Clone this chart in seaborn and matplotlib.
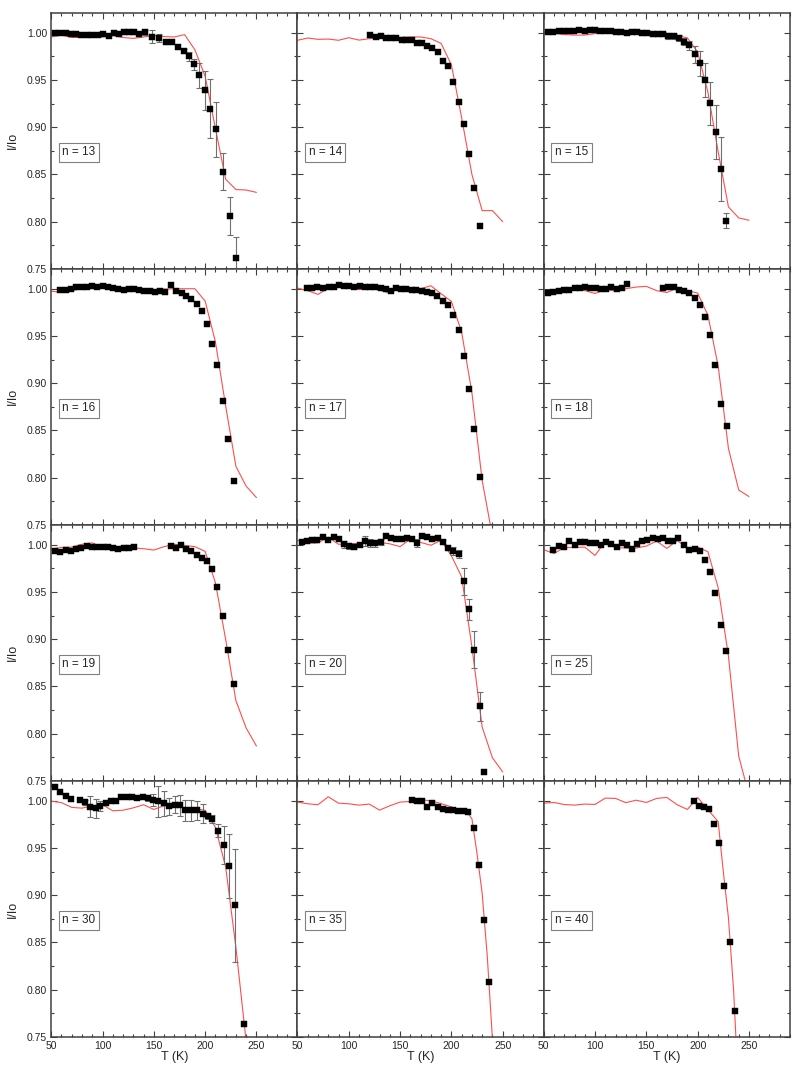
import matplotlib
matplotlib.use("Agg")
import matplotlib.pyplot as plt
import seaborn as sns
from matplotlib.ticker import MultipleLocator, FormatStrFormatter

sns.set_style("ticks")
plt.rcParams["font.family"] = ["Liberation Sans", "DejaVu Sans"]

# simulation grid (K)
SIM_T = [50, 60, 70, 80, 90, 100, 110, 120, 130, 140, 150,
         160, 170, 180, 190, 200, 210, 220, 230, 240, 250]

# n = 13
T13 = [54, 59, 64, 69.5, 74.5, 79.5, 85, 90, 95.5, 100.5, 106, 111, 116, 121, 126, 131, 136,
       141, 148, 155, 161.5, 168, 174, 179, 184.5, 189.5, 194.5, 199.5, 205, 211, 217.5, 224, 230]
I13 = [1.000, 1.000, 1.000, 0.999, 0.999, 0.998, 0.998, 0.998, 0.998, 0.9986, 0.997, 0.9996,
       0.9986, 1.001, 1.001, 1.0003, 0.999, 1.0003, 0.996, 0.9947, 0.9905, 0.9905, 0.985, 0.981,
       0.975, 0.9665, 0.955, 0.939, 0.9196, 0.8977, 0.853, 0.806, 0.762]
E13 = [0, 0, 0, 0, 0, 0, 0, 0, 0, 0, 0, 0, 0, 0.002, 0.002, 0.002, 0, 0.003, 0.007, 0.004,
       0.002, 0, 0, 0.002, 0.005, 0.006, 0.013, 0.021, 0.031, 0.029, 0.020, 0.020, 0.022]
SIM13 = [0.9955, 0.9975, 0.995, 0.995, 0.995, 0.9955, 0.997, 0.995, 0.994, 0.9955, 0.997,
         0.996, 0.9955, 0.998, 0.982, 0.954, 0.899, 0.845, 0.834, 0.8335, 0.831]

# n = 14
T14 = [121, 126.5, 131, 136.5, 141.5, 146, 151.5, 156, 161.5, 166.5, 171.5, 176.5, 181.5,
       186.5, 191.5, 196.5, 201.5, 207, 212, 217, 222, 227.5]
I14 = [0.9972, 0.9954, 0.9961, 0.9947, 0.9947, 0.9944, 0.9922, 0.9922, 0.9919, 0.9887, 0.9887,
       0.9855, 0.9838, 0.9799, 0.9697, 0.9651, 0.9475, 0.927, 0.9037, 0.8717, 0.836, 0.7955]
SIM14 = [0.992, 0.9944, 0.993, 0.9933, 0.992, 0.9947, 0.9922, 0.9937, 0.9945, 0.9945, 0.995,
         0.9955, 0.9955, 0.9937, 0.9887, 0.966, 0.910, 0.850, 0.8117, 0.8117, 0.800]

# n = 15
T15 = [54.5, 59.5, 64.5, 69.5, 74.5, 79.5, 84.5, 90, 95, 100, 105, 110, 115.5, 120.5, 125.5,
       131, 136, 141, 146, 151, 156, 161.5, 166.5, 171.5, 176.5, 182, 187, 192, 197, 202, 207.5,
       212.5, 218, 223, 228]
I15 = [1.0004, 1.0004, 1.0014, 1.0018, 1.0014, 1.0018, 1.0025, 1.0014, 1.0028, 1.0032, 1.0021,
       1.0021, 1.0018, 1.0007, 1.001, 1.0, 1.0004, 1.0007, 1.0, 1.0, 0.999, 0.999, 0.9986, 0.9968,
       0.9961, 0.9947, 0.9905, 0.9866, 0.9774, 0.9676, 0.9503, 0.9252, 0.8949, 0.8554, 0.8008]
E15 = [0, 0, 0, 0, 0, 0, 0, 0, 0, 0, 0, 0, 0, 0, 0, 0.001, 0.001, 0.001, 0.002, 0.002, 0.002,
       0.002, 0.002, 0.003, 0.003, 0.003, 0.004, 0.005, 0.009, 0.013, 0.018, 0.023, 0.029, 0.034,
       0.008]
SIM15 = [1.0, 0.9995, 0.998, 0.9975, 0.9975, 0.999, 1.0, 1.0, 1.0, 0.9995, 0.9995, 0.9985,
         0.998, 0.997, 0.9945, 0.9795, 0.937, 0.874, 0.8156, 0.804, 0.8015]

# n = 16
T16 = [59, 64.5, 69.5, 74.5, 80, 85, 90, 95, 100, 105.5, 110.5, 115.5, 120.5, 126, 130.5, 136,
       140.5, 146, 151, 156.5, 161, 166.5, 171.5, 177, 181.5, 186.5, 192, 196.5, 202, 206.5,
       211.5, 217, 222, 228]
I16 = [0.9989, 0.9986, 0.9996, 1.0014, 1.0014, 1.0014, 1.0025, 1.0014, 1.0032, 1.0014, 1.0011,
       0.9996, 0.9989, 0.9996, 0.9996, 0.9989, 0.9979, 0.9972, 0.9961, 0.9975, 0.9961, 1.0042,
       0.9975, 0.9951, 0.9926, 0.9887, 0.9838, 0.976, 0.9627, 0.9412, 0.9194, 0.881, 0.8412, 0.7965]
SIM16 = [0.9975, 0.996, 0.998, 1.0, 1.0015, 1.0025, 0.999, 0.9985, 0.999, 0.996, 0.9975,
         0.9995, 1.0, 1.0, 1.0, 0.987, 0.944, 0.876, 0.812, 0.791, 0.779]

# n = 17
T17 = [59, 64, 69.5, 75, 80.5, 85.5, 90.5, 95.5, 100.5, 105.5, 111, 115.5, 121, 125.5, 131, 136,
       141, 146, 151, 156, 161.5, 166, 171.5, 176, 181.5, 186, 191.5, 196.5, 201.5, 207, 212,
       217, 222, 227.5]
I17 = [1.0007, 1.0007, 1.0018, 1.0007, 1.0018, 1.0021, 1.0039, 1.0028, 1.0028, 1.0021, 1.0032,
       1.0018, 1.0014, 1.0014, 1.0004, 0.9993, 0.9975, 1.0004, 0.9993, 0.9993, 0.9982, 0.9989,
       0.9975, 0.9968, 0.9954, 0.9919, 0.9873, 0.9831, 0.9718, 0.9563, 0.9289, 0.8944, 0.8518,
       0.8004]
SIM17 = [1.0007, 0.998, 0.994, 1.0005, 1.0025, 1.0015, 0.999, 1.0004, 0.9985, 0.9954, 1.001,
         1.001, 1.0, 1.0032, 0.9947, 0.9866, 0.954, 0.890, 0.797, 0.738, 0.68]

# n = 18
T18 = [54.5, 59.5, 64.5, 70, 75, 80, 85.5, 90.5, 95.5, 100.5, 106, 111, 116, 121, 126, 131.5,
       166.5, 171, 176.5, 181.5, 186.5, 191.5, 197, 202, 207, 212, 217, 222.5, 229]
I18 = [0.9954, 0.9965, 0.9979, 0.9986, 0.9986, 1.0011, 1.0007, 1.0014, 1.0011, 1.0004, 1.0,
       0.9996, 1.0018, 1.0, 1.0007, 1.0046, 1.0007, 1.0014, 1.0021, 0.9982, 0.9972, 0.9958,
       0.9901, 0.9831, 0.9701, 0.9507, 0.9194, 0.8775, 0.8542]
SIM18 = [0.9954, 0.9985, 0.9998, 1.0, 0.998, 0.995, 0.9993, 0.9975, 1.0, 1.0018, 1.0025,
         0.998, 0.996, 1.0007, 0.998, 0.9954, 0.972, 0.918, 0.831, 0.787, 0.78]

# n = 19
T19 = [54, 59, 64.5, 69.5, 74.5, 79.5, 85, 90, 95, 100.5, 105.5, 110.5, 115.5, 121, 126, 131,
       166.5, 171.5, 176.5, 181.5, 186.5, 192, 196.5, 202, 206.5, 212, 217, 222, 228]
I19 = [0.993, 0.9923, 0.9944, 0.9937, 0.9958, 0.9968, 0.9982, 0.9972, 0.9972, 0.9975, 0.9975,
       0.9961, 0.9954, 0.9961, 0.9961, 0.9975, 0.9986, 0.9968, 0.9993, 0.9958, 0.9937, 0.9894,
       0.9856, 0.9824, 0.9743, 0.9556, 0.925, 0.8891, 0.8528]
SIM19 = [0.9954, 0.9972, 0.9975, 1.0005, 1.002, 0.9972, 0.9975, 0.997, 0.9966, 0.9958, 0.9944,
         0.998, 1.0005, 0.9993, 0.998, 0.993, 0.960, 0.900, 0.835, 0.806, 0.787]

# n = 20
T20 = [54, 59.5, 64.5, 69.5, 75, 80, 85.5, 90.5, 95.5, 100.5, 105.5, 111, 116, 121, 126, 131,
       136.5, 141.5, 146.5, 151.5, 156.5, 161.5, 166.5, 171.5, 176.5, 181.5, 186.5, 191.5, 197,
       202, 207, 212, 217, 222, 227.5, 232]
I20 = [1.0032, 1.0042, 1.0053, 1.0053, 1.0077, 1.0053, 1.0077, 1.0063, 1.0004, 0.9986, 0.9979,
       1.0, 1.0039, 1.0018, 1.0014, 1.0028, 1.0092, 1.0074, 1.0063, 1.0063, 1.0074, 1.0056,
       1.0018, 1.0088, 1.0081, 1.006, 1.007, 1.0028, 0.9961, 0.9933, 0.9905, 0.9613, 0.9317,
       0.8891, 0.8289, 0.7599]
E20 = [0, 0, 0, 0, 0, 0, 0, 0, 0.004, 0.003, 0.002, 0, 0.005, 0.004, 0.004, 0.003, 0, 0, 0, 0,
       0, 0, 0.004, 0, 0, 0, 0, 0.002, 0.002, 0.004, 0.004, 0.014, 0.011, 0.020, 0.0155, 0]
SIM20 = [1.0046, 1.0018, 1.002, 1.008, 1.0005, 1.001, 1.0015, 1.0018, 1.0025, 1.001, 0.998,
         1.006, 1.0025, 0.9995, 1.0046, 0.9884, 0.966, 0.892, 0.807, 0.7745, 0.7595]

# n = 25
T25 = [59.5, 64.5, 70, 75, 80, 85.5, 90.5, 95.5, 100.5, 105.5, 110.5, 116, 121, 126, 131, 136,
       141, 146, 151, 156, 161, 166, 171, 176, 181, 186.5, 191.5, 197, 202, 207, 212, 217,
       222.5, 228]
I25 = [0.9947, 0.9986, 0.9972, 1.0035, 0.9996, 1.0028, 1.0025, 1.0021, 1.0021, 0.9993, 1.0025,
       1.0004, 0.9972, 1.0018, 0.9996, 0.9958, 1.0007, 1.0039, 1.0046, 1.0074, 1.0056, 1.007,
       1.0042, 1.0042, 1.0074, 1.0, 0.9944, 0.9954, 0.9933, 0.9834, 0.9711, 0.9492, 0.915, 0.8872]
SIM25 = [0.9947, 0.9908, 0.997, 0.9972, 0.9975, 0.9887, 1.0035, 0.997, 0.9965, 0.9965, 0.9986,
         1.0039, 0.9961, 1.0046, 0.9961, 0.9975, 0.9926, 0.9545, 0.8822, 0.7764, 0.735]

# n = 30
T30 = [54, 59, 64.5, 69.5, 78, 83, 88, 93.5, 98, 103.5, 108.5, 113.5, 118.5, 124, 129, 134,
       139.5, 144.5, 149.5, 154.5, 160, 165, 170.5, 175.5, 180.5, 186.5, 192.5, 198, 203, 206.5,
       213, 218, 223.5, 229, 238]
I30 = [1.0148, 1.0095, 1.0049, 1.0018, 1.0004, 0.9982, 0.9937, 0.9922, 0.9947, 0.9975, 1.0,
       1.0, 1.0039, 1.0042, 1.0035, 1.0032, 1.0042, 1.0025, 1.0007, 0.9993, 0.9972, 0.9944,
       0.9958, 0.9951, 0.9898, 0.9898, 0.9898, 0.9862, 0.9834, 0.9806, 0.9683, 0.9528, 0.9309,
       0.8893, 0.7638]
E30 = [0, 0, 0, 0, 0, 0.003, 0.011, 0.010, 0.005, 0, 0, 0, 0, 0, 0, 0, 0, 0.003, 0.006, 0.016,
       0.013, 0.009, 0.009, 0.011, 0.011, 0.011, 0.010, 0.010, 0.003, 0.004, 0.007, 0.020, 0.034,
       0.060, 0]
SIM30 = [0.9996, 0.998, 0.993, 0.9922, 0.9947, 0.9958, 0.9894, 0.990, 0.9925, 0.9958, 0.9908,
         0.9947, 0.9965, 0.9922, 0.9915, 0.990, 0.972, 0.930, 0.845, 0.745, 0.66]

# n = 35
T35 = [161.5, 166.5, 171.5, 176.5, 181.5, 186.5, 191.5, 196.5, 201.5, 206.5, 212, 216.5, 222,
       227, 232, 237]
I35 = [1.0011, 1.0, 1.0, 0.993, 0.9975, 0.9937, 0.9912, 0.9905, 0.9905, 0.9891, 0.9887, 0.988,
       0.9711, 0.9323, 0.8738, 0.8082]
SIM35_T = [50, 60, 70, 80, 90, 100, 110, 120, 130, 140, 150, 160, 170, 180, 190, 200, 210,
           215, 220, 225, 230, 235, 240, 245]
SIM35 = [0.9986, 0.9968, 0.9958, 1.0042, 0.9975, 0.9968, 0.9954, 0.9965, 0.9901, 0.9947, 0.9986,
         0.9993, 1.001, 1.0, 0.997, 0.9935, 0.9895, 0.988, 0.981, 0.944, 0.902, 0.835, 0.748, 0.68]

# n = 40
T40 = [196, 201, 206, 211, 216, 221, 226, 231.5, 236.5]
I40 = [1.0, 0.994, 0.993, 0.9912, 0.9757, 0.9549, 0.91, 0.8505, 0.7772]
SIM40_T = [50, 60, 70, 80, 90, 100, 110, 120, 130, 140, 150, 160, 170, 180, 190, 200, 210,
           220, 225, 230, 235, 240]
SIM40 = [0.9975, 0.9982, 0.996, 0.9954, 0.9965, 0.9961, 1.0028, 1.0025, 0.998, 1.0006, 0.9982,
         1.0025, 1.0035, 0.9958, 0.9908, 1.0035, 0.9905, 0.978, 0.925, 0.876, 0.80, 0.69]

PANELS = [
    (13, T13, I13, E13, SIM_T, SIM13),
    (14, T14, I14, None, SIM_T, SIM14),
    (15, T15, I15, E15, SIM_T, SIM15),
    (16, T16, I16, None, SIM_T, SIM16),
    (17, T17, I17, None, SIM_T, SIM17),
    (18, T18, I18, None, SIM_T, SIM18),
    (19, T19, I19, None, SIM_T, SIM19),
    (20, T20, I20, E20, SIM_T, SIM20),
    (25, T25, I25, None, SIM_T, SIM25),
    (30, T30, I30, E30, SIM_T, SIM30),
    (35, T35, I35, None, SIM35_T, SIM35),
    (40, T40, I40, None, SIM40_T, SIM40),
]

AXIS_COLOR = "#404040"
LINE_COLOR = "#ff4d4d"


def draw_panel(ax, n, temps, ratio, errors, sim_t, sim_i):
    sns.lineplot(x=sim_t, y=sim_i, ax=ax, color=LINE_COLOR, linewidth=0.8,
                 sort=False, estimator=None, zorder=2)
    if errors is not None:
        pts = [(t, v, e) for t, v, e in zip(temps, ratio, errors) if e > 0]
        ax.errorbar([p[0] for p in pts], [p[1] for p in pts], yerr=[p[2] for p in pts],
                    fmt="none", ecolor="#707070", elinewidth=0.8, capsize=2,
                    capthick=0.8, zorder=3)
    sns.scatterplot(x=temps, y=ratio, ax=ax, marker="s", s=24, color="black",
                    edgecolor="black", linewidth=0.3, zorder=4)
    ax.text(0.045, 0.455, f"n = {n}", transform=ax.transAxes, fontsize=8.5,
            ha="left", va="center",
            bbox=dict(boxstyle="square,pad=0.3", facecolor="white",
                      edgecolor="#808080", linewidth=0.8))


fig, axes = plt.subplots(4, 3, figsize=(8, 10.74), dpi=100, sharex=True, sharey=True)
fig.subplots_adjust(left=0.064, right=0.9875, top=0.988, bottom=0.0345,
                    hspace=0, wspace=0)

for ax, (n, temps, ratio, errors, sim_t, sim_i) in zip(axes.flat, PANELS):
    draw_panel(ax, n, temps, ratio, errors, sim_t, sim_i)

for i, ax in enumerate(axes.flat):
    ax.set_xlim(50, 290)
    ax.set_ylim(0.75, 1.021)
    ax.xaxis.set_major_locator(MultipleLocator(50))
    ax.xaxis.set_minor_locator(MultipleLocator(10))
    ax.yaxis.set_major_locator(MultipleLocator(0.05))
    ax.yaxis.set_minor_locator(MultipleLocator(0.025))
    ax.yaxis.set_major_formatter(FormatStrFormatter("%.2f"))
    ax.tick_params(which="both", direction="in", top=True, right=True,
                   color=AXIS_COLOR, width=0.8, labelsize=7.5, pad=3)
    ax.tick_params(which="major", length=4)
    ax.tick_params(which="minor", length=2.2)
    for spine in ax.spines.values():
        spine.set_color(AXIS_COLOR)
        spine.set_linewidth(1.1)
    ax.set_xlabel("")
    ax.set_ylabel("")
    row, col = divmod(i, 3)
    if col == 0:
        ax.set_ylabel("I/Io", fontsize=9, labelpad=6)
    if row == 3:
        ax.set_xlabel("T (K)", fontsize=9, labelpad=0)

fig.savefig("out.png", dpi=100)
